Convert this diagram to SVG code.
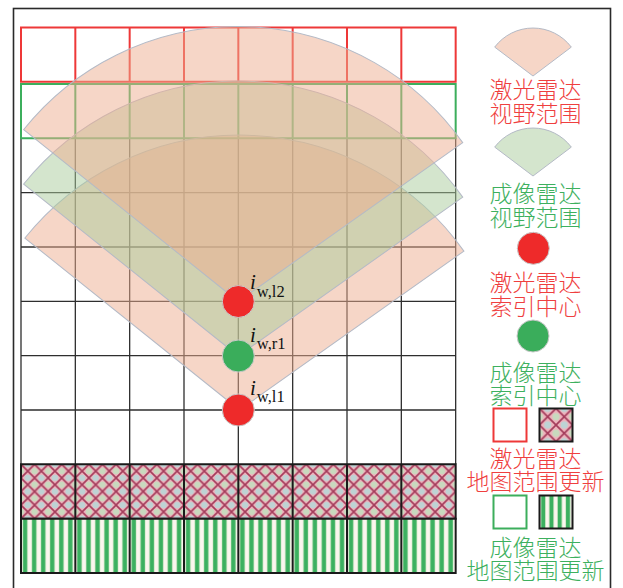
<svg xmlns="http://www.w3.org/2000/svg" width="623" height="588" viewBox="0 0 623 588">
<style>
.frame{fill:none;stroke:#2a2a2a;stroke-width:1.6}
.grid{fill:none;stroke:#2e2e2e;stroke-width:1.3}
.redrow{fill:none;stroke:#ee3838;stroke-width:2}
.greenrow{fill:none;stroke:#3cae5c;stroke-width:2}
.thick{stroke:#1a1a1a;stroke-width:2}
.fanR{fill:#eeae90;fill-opacity:0.5;stroke:#b4bac6;stroke-width:1}
.fanG{fill:#a9cb9c;fill-opacity:0.5;stroke:#b4bac6;stroke-width:1}
.cR{fill:#ee2a2a;stroke:#c9c9c9;stroke-width:1}
.cG{fill:#3aad5b;stroke:#c9c9c9;stroke-width:1}
.lab{font-family:"Liberation Serif","Times New Roman",serif;fill:#111}
.lg{font-family:"Noto Sans CJK SC","Noto Sans",sans-serif;font-size:23px;text-anchor:middle;font-weight:300}
.tr{fill:#ef3f3f}
.tg{fill:#3db05e}
</style>
<defs>
<pattern id="hatch" patternUnits="userSpaceOnUse" x="21" y="464.33" width="13.58" height="13.58">
<rect width="13.58" height="13.58" fill="#eeb4bd"/>
<circle cx="6.79" cy="0" r="3.2" fill="#b5d9d8" fill-opacity="0.85"/>
<circle cx="6.79" cy="13.58" r="3.2" fill="#b5d9d8" fill-opacity="0.85"/>
<circle cx="0" cy="6.79" r="3.2" fill="#c2e0bf" fill-opacity="0.85"/>
<circle cx="13.58" cy="6.79" r="3.2" fill="#c2e0bf" fill-opacity="0.85"/>
<path d="M0,0L13.58,13.58M13.58,0L0,13.58" stroke="#9c2f50" stroke-width="1.6" stroke-opacity="0.9"/>
</pattern>
<pattern id="hatchL" patternUnits="userSpaceOnUse" x="539.5" y="408.5" width="16.5" height="16.5">
<rect width="16.5" height="16.5" fill="#eeb4bd"/>
<circle cx="8.25" cy="0" r="3.6" fill="#b5d9d8" fill-opacity="0.85"/>
<circle cx="8.25" cy="16.5" r="3.6" fill="#b5d9d8" fill-opacity="0.85"/>
<circle cx="0" cy="8.25" r="3.6" fill="#c2e0bf" fill-opacity="0.85"/>
<circle cx="16.5" cy="8.25" r="3.6" fill="#c2e0bf" fill-opacity="0.85"/>
<path d="M0,0L16.5,16.5M16.5,0L0,16.5" stroke="#9c2f50" stroke-width="1.7" stroke-opacity="0.9"/>
</pattern>
<pattern id="stripe" patternUnits="userSpaceOnUse" x="21" y="0" width="9.055" height="20">
<rect width="9.055" height="20" fill="#fbf6ef"/>
<rect x="1.6" width="5" height="20" fill="#a9dba6"/>
<rect x="2.1" width="4" height="20" fill="#3cb060"/>
</pattern>
<pattern id="stripeL" patternUnits="userSpaceOnUse" x="539.5" y="0" width="8.25" height="20">
<rect width="8.25" height="20" fill="#fbf6ef"/>
<rect x="1.4" width="4.6" height="20" fill="#a9dba6"/>
<rect x="1.8" width="3.8" height="20" fill="#3cb060"/>
</pattern>
<path id="fan" d="M0,0L-219.6,-165.5A275,275 0 0 1 219.6,-165.5Z"/>
<path id="fanS" d="M0,0L-38.3,-28.9A48,48 0 0 1 38.3,-28.9Z"/>
</defs>

<rect class="frame" x="13.5" y="8.5" width="597" height="600"/>

<g id="grid">
<path class="grid" d="M21,138.33V464.33M75.33,138.33V464.33M129.67,138.33V464.33M184,138.33V464.33M238.33,138.33V464.33M292.67,138.33V464.33M347,138.33V464.33M401.33,138.33V464.33M455.67,138.33V464.33M21,192.67H455.67M21,247H455.67M21,301.33H455.67M21,355.67H455.67M21,410H455.67"/>
</g>

<g id="lidar-update-row">
<rect x="21" y="464.33" width="434.67" height="54.34" fill="url(#hatch)"/>
<path class="thick" fill="none" d="M21,464.33H455.67V518.67H21ZM75.33,464.33V518.67M129.67,464.33V518.67M184,464.33V518.67M238.33,464.33V518.67M292.67,464.33V518.67M347,464.33V518.67M401.33,464.33V518.67"/>
</g>
<g id="camera-update-row">
<rect x="21" y="518.67" width="434.67" height="54.33" fill="url(#stripe)"/>
<path class="thick" fill="none" d="M21,518.67H455.67V573H21ZM75.33,518.67V573M129.67,518.67V573M184,518.67V573M238.33,518.67V573M292.67,518.67V573M347,518.67V573M401.33,518.67V573"/>
</g>

<g id="lidar-map-row">
<path class="redrow" d="M21,27.5H455.67V81.83H21ZM75.33,27.5V81.83M129.67,27.5V81.83M184,27.5V81.83M238.33,27.5V81.83M292.67,27.5V81.83M347,27.5V81.83M401.33,27.5V81.83"/>
</g>
<g id="camera-map-row">
<path class="greenrow" d="M21,84H455.67V138.33H21ZM75.33,84V138.33M129.67,84V138.33M184,84V138.33M238.33,84V138.33M292.67,84V138.33M347,84V138.33M401.33,84V138.33"/>
</g>

<g id="fans">
<use href="#fan" class="fanR" transform="translate(239.5,410) rotate(1.7)"/>
<use href="#fan" class="fanG" transform="translate(238.3,356) rotate(1.7)"/>
<use href="#fan" class="fanR" transform="translate(238.3,301.5) rotate(1.7)"/>
</g>

<g id="node-lidar-l2">
<circle class="cR" cx="238.3" cy="301.5" r="16"/>
<text class="lab" x="250" y="288.5"><tspan font-style="italic" font-size="21">i</tspan><tspan font-size="16.5" dx="1" dy="8">w,l2</tspan></text>
</g>
<g id="node-camera-r1">
<circle class="cG" cx="238.3" cy="356" r="16"/>
<text class="lab" x="250" y="342"><tspan font-style="italic" font-size="21">i</tspan><tspan font-size="16.5" dx="1" dy="7">w,r1</tspan></text>
</g>
<g id="node-lidar-l1">
<circle class="cR" cx="238.3" cy="410" r="16"/>
<text class="lab" x="250" y="395"><tspan font-style="italic" font-size="21">i</tspan><tspan font-size="16.5" dx="1" dy="7">w,l1</tspan></text>
</g>

<g id="legend">
<g id="legend-lidar-fov">
<use href="#fanS" class="fanR" transform="translate(533,76)"/>
<text class="lg tr"><tspan x="535.5" y="97.5">激光雷达</tspan><tspan x="535.5" y="122">视野范围</tspan></text>
</g>
<g id="legend-camera-fov">
<use href="#fanS" class="fanG" transform="translate(533,176)"/>
<text class="lg tg"><tspan x="535.5" y="202">成像雷达</tspan><tspan x="535.5" y="226">视野范围</tspan></text>
</g>
<g id="legend-lidar-index">
<circle class="cR" cx="533.3" cy="248.3" r="16"/>
<text class="lg tr"><tspan x="535.5" y="291">激光雷达</tspan><tspan x="535.5" y="315">索引中心</tspan></text>
</g>
<g id="legend-camera-index">
<circle class="cG" cx="533" cy="336" r="16"/>
<text class="lg tg"><tspan x="535.5" y="381">成像雷达</tspan><tspan x="535.5" y="404">索引中心</tspan></text>
</g>
<g id="legend-lidar-map">
<rect class="redrow" x="493.5" y="408.5" width="33" height="33"/>
<rect x="539.5" y="408.5" width="33" height="33" fill="url(#hatchL)" class="thick"/>
<text class="lg tr"><tspan x="535.5" y="466.5">激光雷达</tspan><tspan x="535.5" y="490">地图范围更新</tspan></text>
</g>
<g id="legend-camera-map">
<rect class="greenrow" x="493.5" y="495.5" width="33" height="33"/>
<rect x="539.5" y="495.5" width="33" height="33" fill="url(#stripeL)" class="thick"/>
<text class="lg tg"><tspan x="535.5" y="556">成像雷达</tspan><tspan x="535.5" y="579">地图范围更新</tspan></text>
</g>
</g>
</svg>
